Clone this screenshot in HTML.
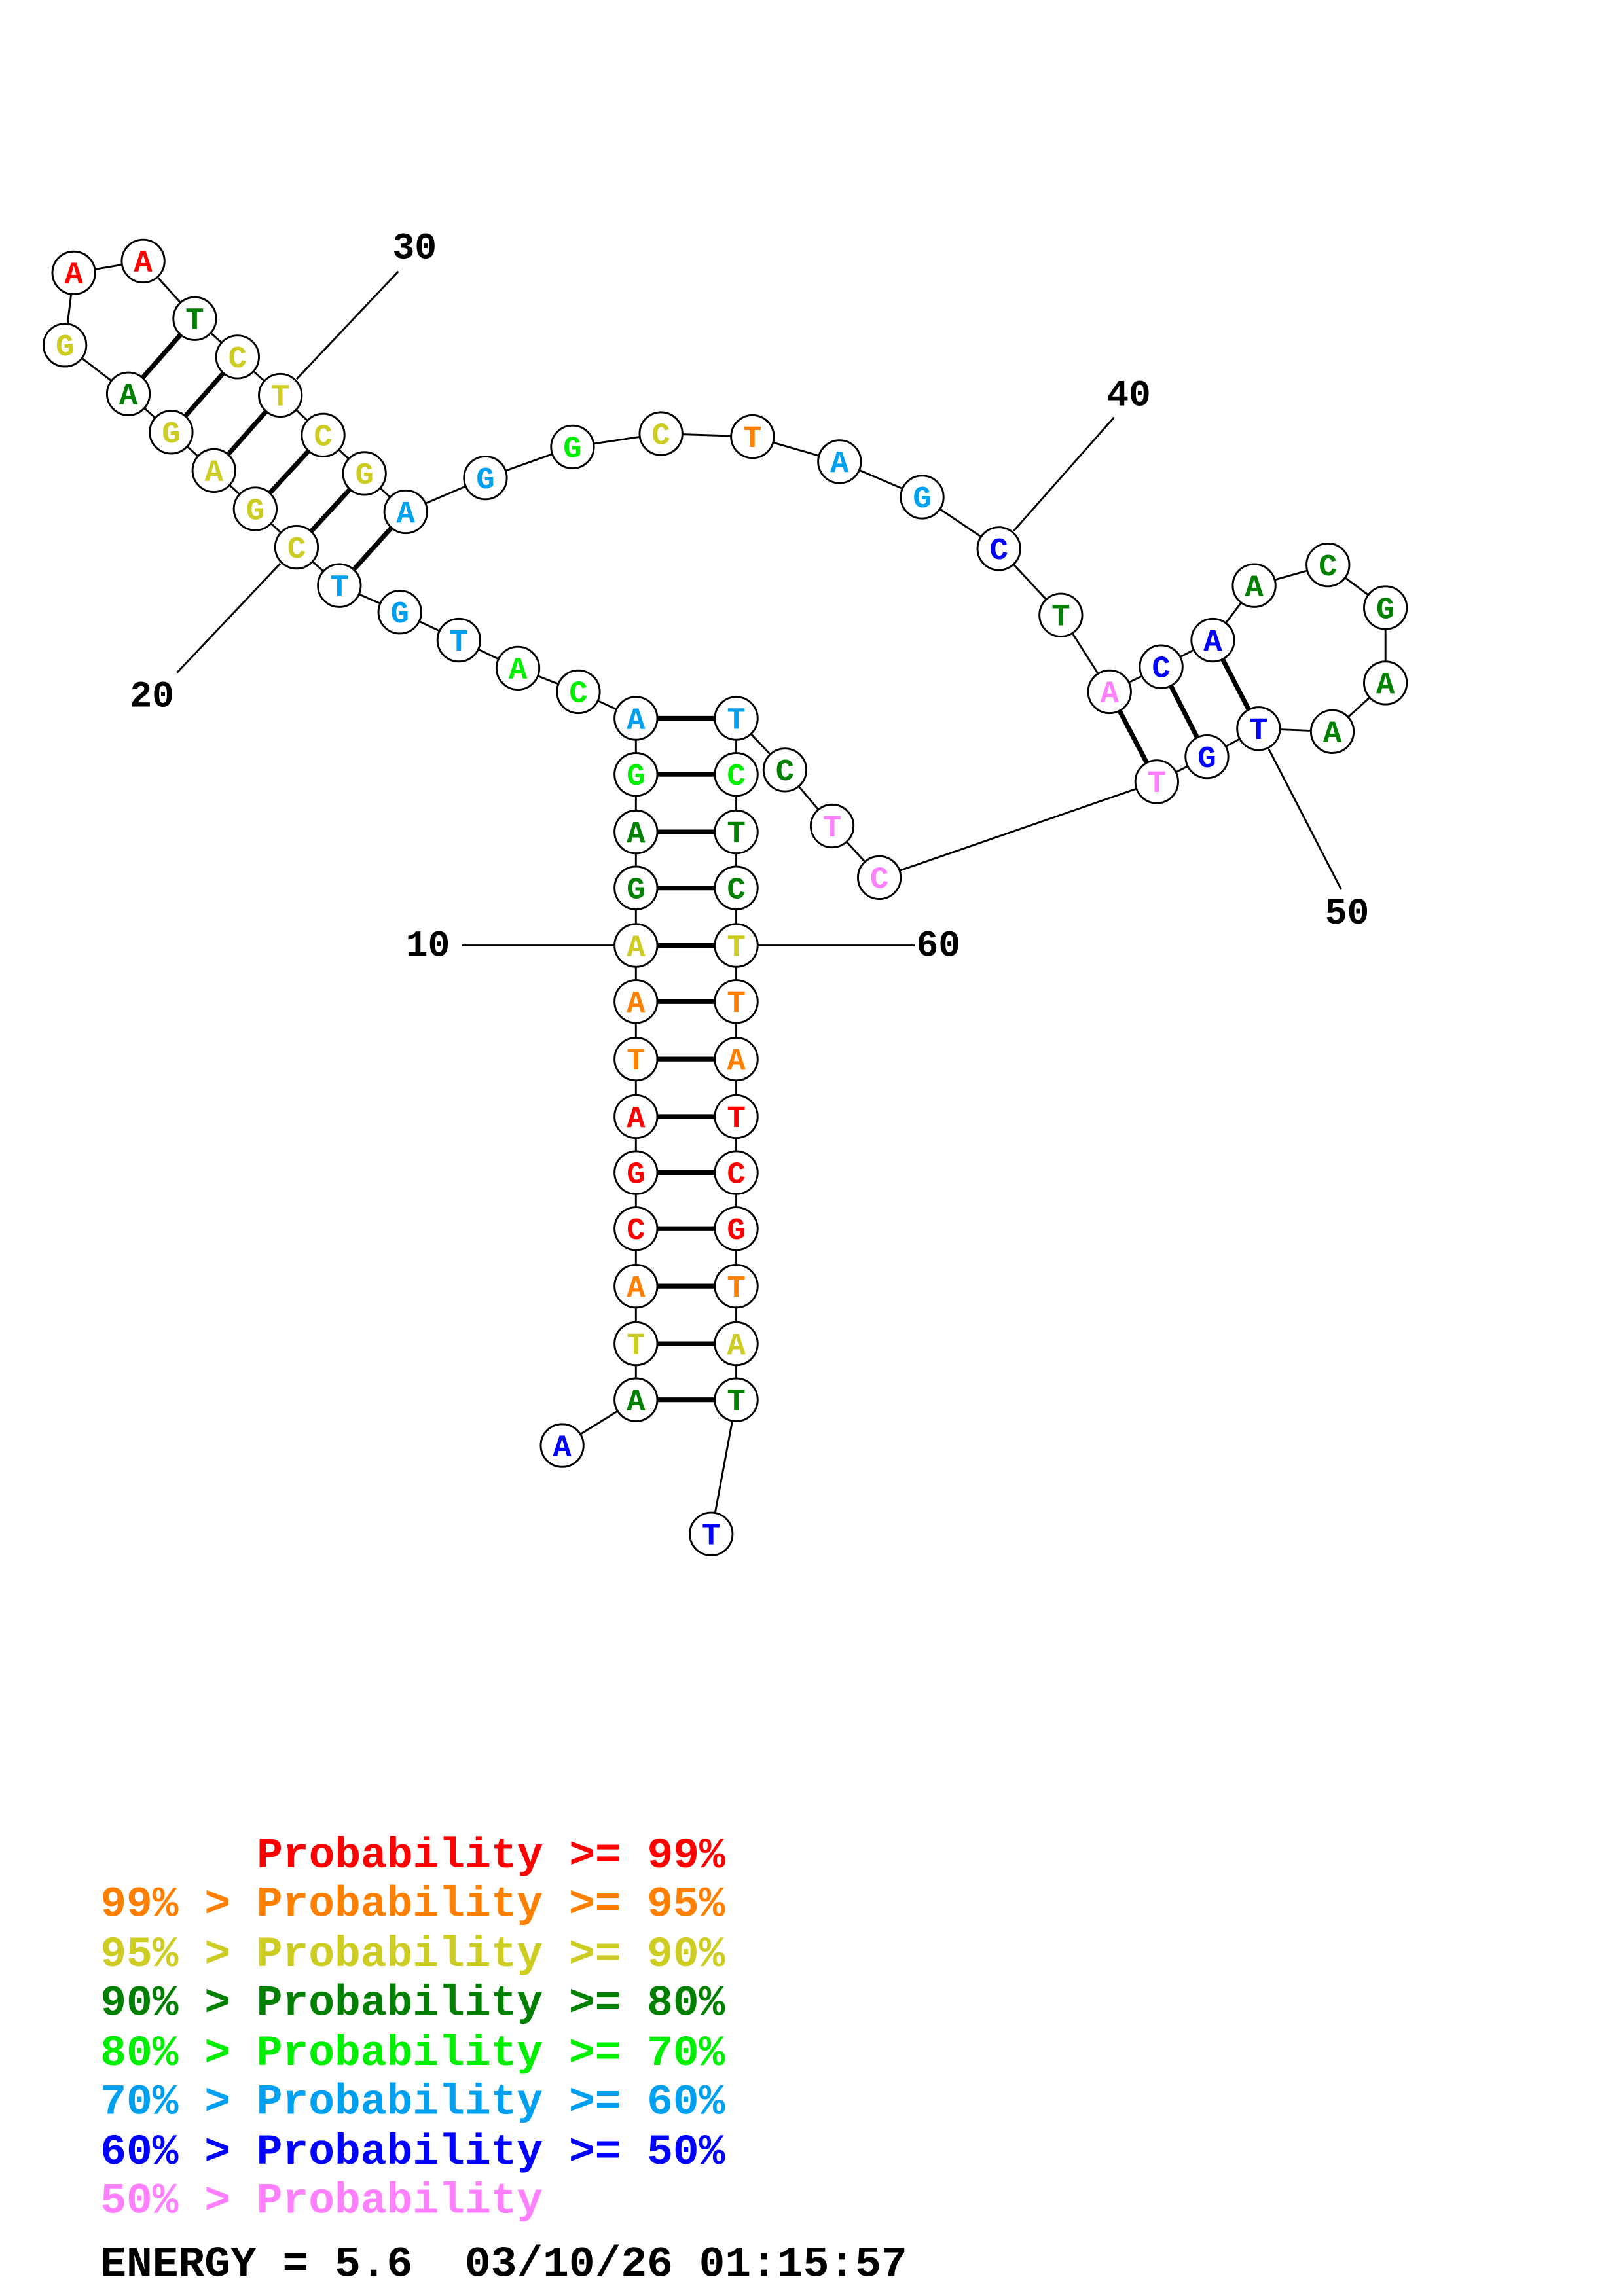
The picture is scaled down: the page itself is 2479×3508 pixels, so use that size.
<!DOCTYPE html>
<html><head><meta charset="utf-8"><style>
html,body{margin:0;padding:0;background:#fff;}
svg{display:block;}
text{font-family:"Liberation Mono",monospace;font-weight:bold;}
.n circle{fill:#fff;stroke:#000;stroke-width:1.3;}
.n text{font-size:21px;text-anchor:middle;}
.r{fill:#ff0000}.o{fill:#ff8000}.y{fill:#cccc22}.d{fill:#008000}.g{fill:#00ee00}.s{fill:#00a0f0}.b{fill:#0000ff}.p{fill:#ff80ff}
</style></head><body>
<svg width="2479" height="3508" viewBox="0 0 1100 1556.6" preserveAspectRatio="none" xmlns="http://www.w3.org/2000/svg">
<rect width="1100" height="1557" fill="#fff"/>
<polyline fill="none" stroke="#000" stroke-width="1.3" points="381,980 431,949 431,911 431,872 431,833 431,795 431,757 431,718 431,679 431,641 431,602 431,564 431,525 431,487 392,469 351,453 311,434 271,415 230,397 201,371 173,345 145,319 116,293 87,267 44,234 50,185 97,177 132,216 161,242 190,268 219,295 247,321 275,347 329,324 388,303 448,294 510,296 569,313 625,337 677,372 719,417 752,469 787,452 822,434 850,397 900,383 939,412 939,463 903,496 853,494 818,513 784,530 596,595 564,560 532,522 499,487 499,525 499,564 499,602 499,641 499,679 499,718 499,757 499,795 499,833 499,872 499,911 499,949 482,1040"/>
<g stroke="#000" stroke-width="3.2">
<line x1="431" y1="949" x2="499" y2="949"/>
<line x1="431" y1="911" x2="499" y2="911"/>
<line x1="431" y1="872" x2="499" y2="872"/>
<line x1="431" y1="833" x2="499" y2="833"/>
<line x1="431" y1="795" x2="499" y2="795"/>
<line x1="431" y1="757" x2="499" y2="757"/>
<line x1="431" y1="718" x2="499" y2="718"/>
<line x1="431" y1="679" x2="499" y2="679"/>
<line x1="431" y1="641" x2="499" y2="641"/>
<line x1="431" y1="602" x2="499" y2="602"/>
<line x1="431" y1="564" x2="499" y2="564"/>
<line x1="431" y1="525" x2="499" y2="525"/>
<line x1="431" y1="487" x2="499" y2="487"/>
<line x1="230" y1="397" x2="275" y2="347"/>
<line x1="201" y1="371" x2="247" y2="321"/>
<line x1="173" y1="345" x2="219" y2="295"/>
<line x1="145" y1="319" x2="190" y2="268"/>
<line x1="116" y1="293" x2="161" y2="242"/>
<line x1="87" y1="267" x2="132" y2="216"/>
<line x1="752" y1="469" x2="784" y2="530"/>
<line x1="787" y1="452" x2="818" y2="513"/>
<line x1="822" y1="434" x2="853" y2="494"/>
</g>
<g stroke="#000" stroke-width="1.3">
<line x1="313" y1="641" x2="416" y2="641"/>
<line x1="514" y1="641" x2="620" y2="641"/>
<line x1="120" y1="456" x2="190" y2="382"/>
<line x1="270" y1="184" x2="201" y2="257"/>
<line x1="755" y1="283" x2="687" y2="360"/>
<line x1="909" y1="603" x2="860" y2="508"/>
</g>
<g class="n">
<circle cx="381" cy="980" r="14.5"/><text x="381" y="987" class="b">A</text>
<circle cx="431" cy="949" r="14.5"/><text x="431" y="956" class="d">A</text>
<circle cx="431" cy="911" r="14.5"/><text x="431" y="918" class="y">T</text>
<circle cx="431" cy="872" r="14.5"/><text x="431" y="879" class="o">A</text>
<circle cx="431" cy="833" r="14.5"/><text x="431" y="840" class="r">C</text>
<circle cx="431" cy="795" r="14.5"/><text x="431" y="802" class="r">G</text>
<circle cx="431" cy="757" r="14.5"/><text x="431" y="764" class="r">A</text>
<circle cx="431" cy="718" r="14.5"/><text x="431" y="725" class="o">T</text>
<circle cx="431" cy="679" r="14.5"/><text x="431" y="686" class="o">A</text>
<circle cx="431" cy="641" r="14.5"/><text x="431" y="648" class="y">A</text>
<circle cx="431" cy="602" r="14.5"/><text x="431" y="609" class="d">G</text>
<circle cx="431" cy="564" r="14.5"/><text x="431" y="571" class="d">A</text>
<circle cx="431" cy="525" r="14.5"/><text x="431" y="532" class="g">G</text>
<circle cx="431" cy="487" r="14.5"/><text x="431" y="494" class="s">A</text>
<circle cx="392" cy="469" r="14.5"/><text x="392" y="476" class="g">C</text>
<circle cx="351" cy="453" r="14.5"/><text x="351" y="460" class="g">A</text>
<circle cx="311" cy="434" r="14.5"/><text x="311" y="441" class="s">T</text>
<circle cx="271" cy="415" r="14.5"/><text x="271" y="422" class="s">G</text>
<circle cx="230" cy="397" r="14.5"/><text x="230" y="404" class="s">T</text>
<circle cx="201" cy="371" r="14.5"/><text x="201" y="378" class="y">C</text>
<circle cx="173" cy="345" r="14.5"/><text x="173" y="352" class="y">G</text>
<circle cx="145" cy="319" r="14.5"/><text x="145" y="326" class="y">A</text>
<circle cx="116" cy="293" r="14.5"/><text x="116" y="300" class="y">G</text>
<circle cx="87" cy="267" r="14.5"/><text x="87" y="274" class="d">A</text>
<circle cx="44" cy="234" r="14.5"/><text x="44" y="241" class="y">G</text>
<circle cx="50" cy="185" r="14.5"/><text x="50" y="192" class="r">A</text>
<circle cx="97" cy="177" r="14.5"/><text x="97" y="184" class="r">A</text>
<circle cx="132" cy="216" r="14.5"/><text x="132" y="223" class="d">T</text>
<circle cx="161" cy="242" r="14.5"/><text x="161" y="249" class="y">C</text>
<circle cx="190" cy="268" r="14.5"/><text x="190" y="275" class="y">T</text>
<circle cx="219" cy="295" r="14.5"/><text x="219" y="302" class="y">C</text>
<circle cx="247" cy="321" r="14.5"/><text x="247" y="328" class="y">G</text>
<circle cx="275" cy="347" r="14.5"/><text x="275" y="354" class="s">A</text>
<circle cx="329" cy="324" r="14.5"/><text x="329" y="331" class="s">G</text>
<circle cx="388" cy="303" r="14.5"/><text x="388" y="310" class="g">G</text>
<circle cx="448" cy="294" r="14.5"/><text x="448" y="301" class="y">C</text>
<circle cx="510" cy="296" r="14.5"/><text x="510" y="303" class="o">T</text>
<circle cx="569" cy="313" r="14.5"/><text x="569" y="320" class="s">A</text>
<circle cx="625" cy="337" r="14.5"/><text x="625" y="344" class="s">G</text>
<circle cx="677" cy="372" r="14.5"/><text x="677" y="379" class="b">C</text>
<circle cx="719" cy="417" r="14.5"/><text x="719" y="424" class="d">T</text>
<circle cx="752" cy="469" r="14.5"/><text x="752" y="476" class="p">A</text>
<circle cx="787" cy="452" r="14.5"/><text x="787" y="459" class="b">C</text>
<circle cx="822" cy="434" r="14.5"/><text x="822" y="441" class="b">A</text>
<circle cx="850" cy="397" r="14.5"/><text x="850" y="404" class="d">A</text>
<circle cx="900" cy="383" r="14.5"/><text x="900" y="390" class="d">C</text>
<circle cx="939" cy="412" r="14.5"/><text x="939" y="419" class="d">G</text>
<circle cx="939" cy="463" r="14.5"/><text x="939" y="470" class="d">A</text>
<circle cx="903" cy="496" r="14.5"/><text x="903" y="503" class="d">A</text>
<circle cx="853" cy="494" r="14.5"/><text x="853" y="501" class="b">T</text>
<circle cx="818" cy="513" r="14.5"/><text x="818" y="520" class="b">G</text>
<circle cx="784" cy="530" r="14.5"/><text x="784" y="537" class="p">T</text>
<circle cx="596" cy="595" r="14.5"/><text x="596" y="602" class="p">C</text>
<circle cx="564" cy="560" r="14.5"/><text x="564" y="567" class="p">T</text>
<circle cx="532" cy="522" r="14.5"/><text x="532" y="529" class="d">C</text>
<circle cx="499" cy="487" r="14.5"/><text x="499" y="494" class="s">T</text>
<circle cx="499" cy="525" r="14.5"/><text x="499" y="532" class="g">C</text>
<circle cx="499" cy="564" r="14.5"/><text x="499" y="571" class="d">T</text>
<circle cx="499" cy="602" r="14.5"/><text x="499" y="609" class="d">C</text>
<circle cx="499" cy="641" r="14.5"/><text x="499" y="648" class="y">T</text>
<circle cx="499" cy="679" r="14.5"/><text x="499" y="686" class="o">T</text>
<circle cx="499" cy="718" r="14.5"/><text x="499" y="725" class="o">A</text>
<circle cx="499" cy="757" r="14.5"/><text x="499" y="764" class="r">T</text>
<circle cx="499" cy="795" r="14.5"/><text x="499" y="802" class="r">C</text>
<circle cx="499" cy="833" r="14.5"/><text x="499" y="840" class="r">G</text>
<circle cx="499" cy="872" r="14.5"/><text x="499" y="879" class="o">T</text>
<circle cx="499" cy="911" r="14.5"/><text x="499" y="918" class="y">A</text>
<circle cx="499" cy="949" r="14.5"/><text x="499" y="956" class="d">T</text>
<circle cx="482" cy="1040" r="14.5"/><text x="482" y="1047" class="b">T</text>
</g>
<g font-size="25" fill="#000">
<text x="275" y="648">10</text>
<text x="621" y="648">60</text>
<text x="88" y="479">20</text>
<text x="266" y="175">30</text>
<text x="750" y="275">40</text>
<text x="898" y="626">50</text>
</g>
<g font-size="29.4">
<text x="174" y="1266" fill="#ff0000" xml:space="preserve">Probability &gt;= 99%</text>
<text x="68" y="1299" fill="#ff8000" xml:space="preserve">99% &gt; Probability &gt;= 95%</text>
<text x="68" y="1333" fill="#cccc22" xml:space="preserve">95% &gt; Probability &gt;= 90%</text>
<text x="68" y="1366" fill="#008000" xml:space="preserve">90% &gt; Probability &gt;= 80%</text>
<text x="68" y="1400" fill="#00ee00" xml:space="preserve">80% &gt; Probability &gt;= 70%</text>
<text x="68" y="1433" fill="#00a0f0" xml:space="preserve">70% &gt; Probability &gt;= 60%</text>
<text x="68" y="1467" fill="#0000ff" xml:space="preserve">60% &gt; Probability &gt;= 50%</text>
<text x="68" y="1500" fill="#ff80ff" xml:space="preserve">50% &gt; Probability</text>
<text x="68" y="1543" fill="#000" xml:space="preserve">ENERGY = 5.6  03/10/26 01:15:57</text>
</g>
</svg>
</body></html>
